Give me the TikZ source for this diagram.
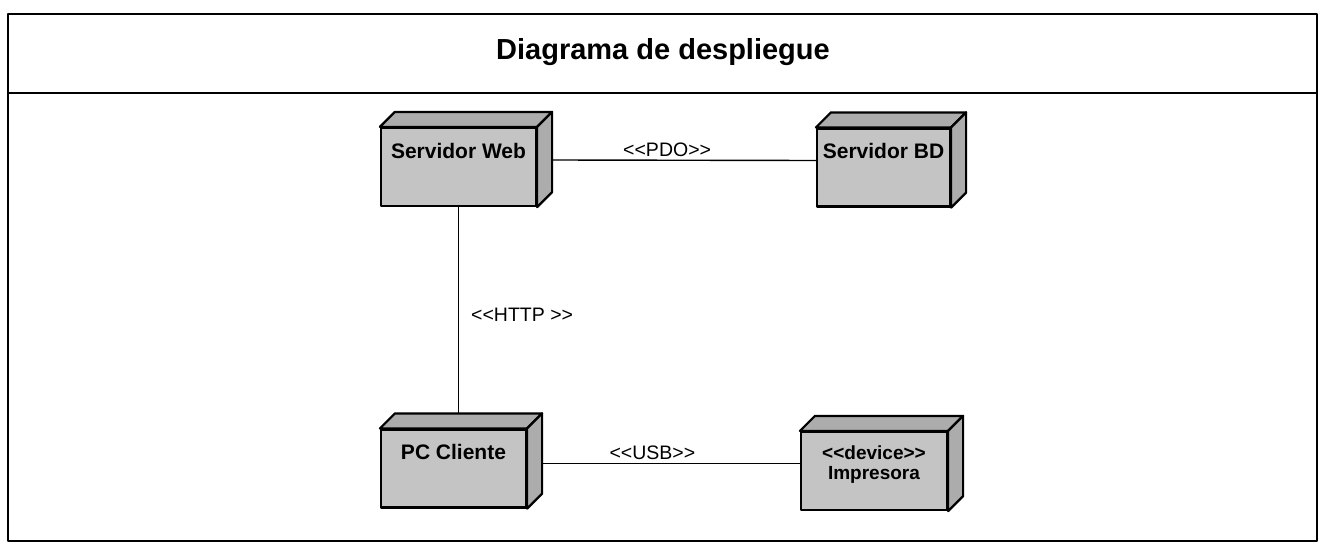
\documentclass[tikz,border=0pt]{standalone}
\usepackage{fontspec}
\setmainfont{Liberation Sans}
\usepackage{tikz}
\usetikzlibrary{calc}
\definecolor{front}{RGB}{196, 196, 196}
\definecolor{side}{RGB}{172, 172, 172}

\begin{document}
\begin{tikzpicture}[x=1pt, y=1pt, line join=round,
    frame/.style={line width=1.8pt},
    box/.style={draw, line width=2.2pt, fill=front, inner sep=0pt, minimum height=78pt,
      text height=30pt, text depth=48pt, font=\bfseries\fontsize{21}{21}\selectfont, align=center},
    face/.style={draw, line width=2.2pt, fill=side},
    conn/.style={line width=1.4pt},
    lbl/.style={font=\fontsize{19.5}{22}\selectfont, inner sep=2pt}]
  \useasboundingbox (0, 0) rectangle (1323, -543);

  % frame and title
  \draw[frame] (8, -14) rectangle (1317, -541);
  \draw[frame] (8, -93) -- (1317, -93);
  \node[font=\bfseries\fontsize{29}{32}\selectfont] (ttl) at (663, -52) {Diagrama de despliegue};

  % nodes
  \node[box, minimum width=155pt] (sw) at (458.5, -167) {Servidor Web};
  \node[box, minimum width=133pt] (bd) at (883.5, -167.5) {Servidor BD};
  \node[box, minimum width=145pt] (pc) at (453.5, -468.5) {PC Cliente};
  \node[box, minimum width=146pt, text height=47pt, text depth=31pt,
    font=\bfseries\fontsize{19}{20}\selectfont] (imp) at (874, -471)
    {{<}{<}device{>}{>}\\Impresora};

  \foreach \n in {sw, bd, pc, imp} {
    \filldraw[face] (\n.north west) -- ++(15, 15) -- ($(\n.north east)+(15, 15)$)
      -- (\n.north east) -- cycle;
    \filldraw[face] (\n.north east) -- ++(15, 15) -- ($(\n.south east)+(15, 15)$)
      -- (\n.south east) -- cycle;
  }

  % connectors
  \coordinate (pctop) at ($(pc.north)+(0, 15)$);
  \draw[conn] ($(sw.east)+(15, 7)$) -- ($(bd.west)+(0, 7)$)
    node[lbl, pos=0.436, above=1pt] (pdo) {{<}{<}PDO{>}{>}};
  \draw[conn] (sw.south) -- (sw.south |- pctop)
    node[lbl, pos=0.52, right=10pt] (http) {{<}{<}HTTP {>}{>}};
  \draw[conn] ($(pc.east)+(14, 5)$) -- ($(imp.west)+(0, 7.5)$)
    node[lbl, pos=0.43, above=1pt] (usb) {{<}{<}USB{>}{>}};
\end{tikzpicture}
\end{document}
